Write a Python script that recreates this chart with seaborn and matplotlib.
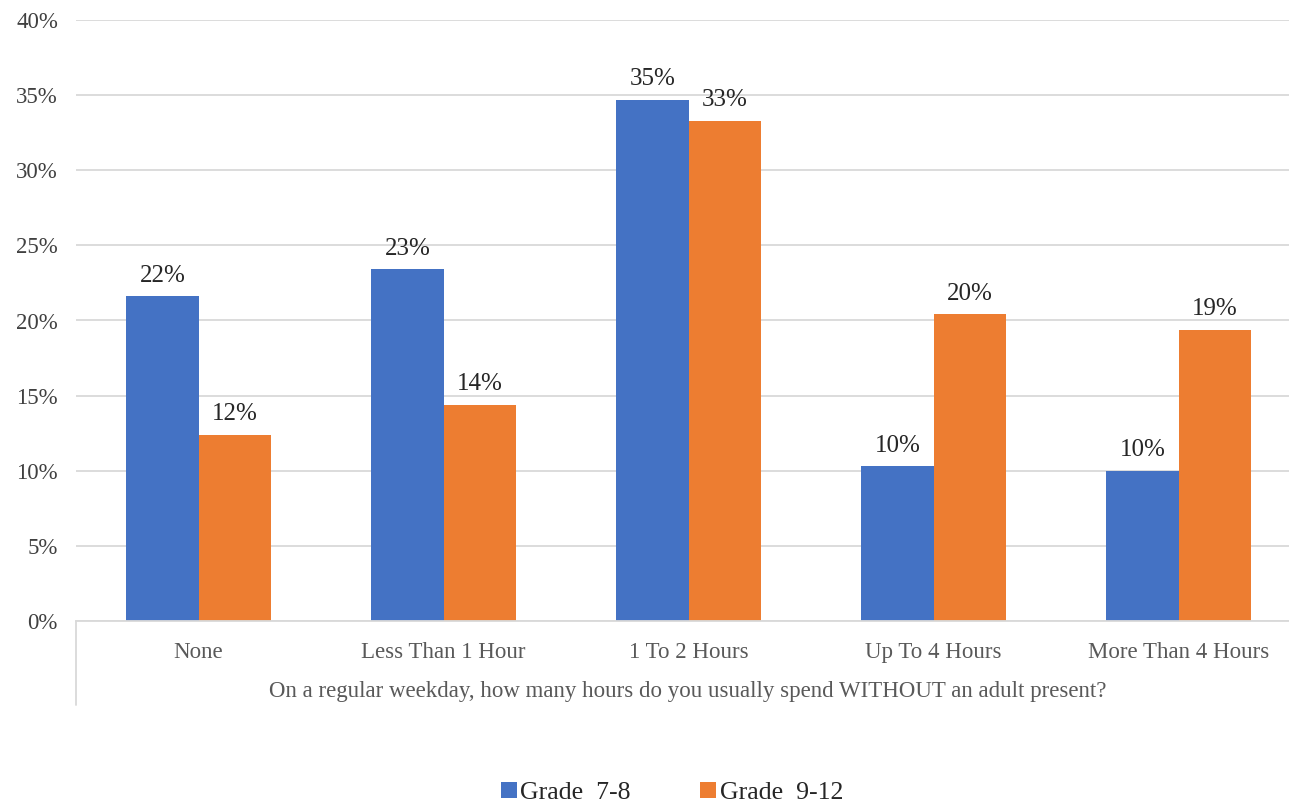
import matplotlib
matplotlib.use("Agg")
import matplotlib.pyplot as plt
import seaborn as sns
import pandas as pd
from matplotlib.patches import Patch

categories = ["None", "Less Than 1 Hour", "1 To 2 Hours", "Up To 4 Hours", "More Than 4 Hours"]
series_names = ["Grade  7-8", "Grade  9-12"]
grade_7_8 = [0.216, 0.234, 0.347, 0.103, 0.100]
grade_9_12 = [0.124, 0.144, 0.333, 0.204, 0.194]
y_ticks = [0, 0.05, 0.10, 0.15, 0.20, 0.25, 0.30, 0.35, 0.40]
x_title = "On a regular weekday, how many hours do you usually spend WITHOUT an adult present?"

colors = ["#4472C4", "#ED7D31"]

df = pd.DataFrame({
    "category": categories * 2,
    "series": [series_names[0]] * 5 + [series_names[1]] * 5,
    "value": grade_7_8 + grade_9_12,
})

sns.set_theme(style="white")
plt.rcParams["font.family"] = ["Liberation Serif", "DejaVu Serif"]

W, H = 1289, 805
fig = plt.figure(figsize=(W / 100, H / 100), dpi=100)
left_px, right_px, top_px, bot_px = 76, 1289, 20, 621
ax = fig.add_axes([left_px / W, 1 - bot_px / H, (right_px - left_px) / W, (bot_px - top_px) / H])

sns.barplot(data=df, x="category", y="value", hue="series", order=categories,
            hue_order=series_names, palette=colors, width=0.588, gap=0,
            saturation=1, ax=ax, legend=False, linewidth=0)

ax.set_ylim(0, 0.40)
ax.set_xlim(-0.5, 4.5 - 12 / 245)
ax.set_yticks(y_ticks)
ax.set_yticklabels([f"{int(round(t * 100))}%" for t in y_ticks], fontsize=16.5, color="#404040")
ax.tick_params(axis="x", labelsize=16.5, labelcolor="#595959", length=0, pad=15)
ax.tick_params(axis="y", length=0, pad=13)
ax.set_xlabel("")
ax.set_ylabel("")
ax.grid(axis="y", color="#D9D9D9", linewidth=1.3)
ax.set_axisbelow(True)
for s in ["top", "right", "left"]:
    ax.spines[s].set_visible(False)
ax.spines["bottom"].set_color("#D9D9D9")
ax.spines["bottom"].set_linewidth(1.3)

for cont in ax.containers:
    ax.bar_label(cont, labels=[f"{int(round(v * 100))}%" for v in cont.datavalues],
                 padding=7, fontsize=18, color="#262626")

# axis title for multi-level category axis
fig.text(688 / W, 1 - 691 / H, x_title, ha="center", va="center", fontsize=16.5, color="#595959")

# vertical line of category axis
ax.plot([0, 0], [0, -84 / (bot_px - top_px)], transform=ax.transAxes,
        color="#D9D9D9", linewidth=1.3, clip_on=False)

handles = [Patch(facecolor=c, edgecolor="none") for c in colors]
fig.legend(handles, series_names, loc="center", bbox_to_anchor=(672 / W, 1 - 793 / H),
           ncol=2, frameon=False, fontsize=18.5, handlelength=0.6, handleheight=0.6,
           handletextpad=0.15, columnspacing=2.7, labelcolor="#262626")

fig.savefig("out.png", dpi=100)
